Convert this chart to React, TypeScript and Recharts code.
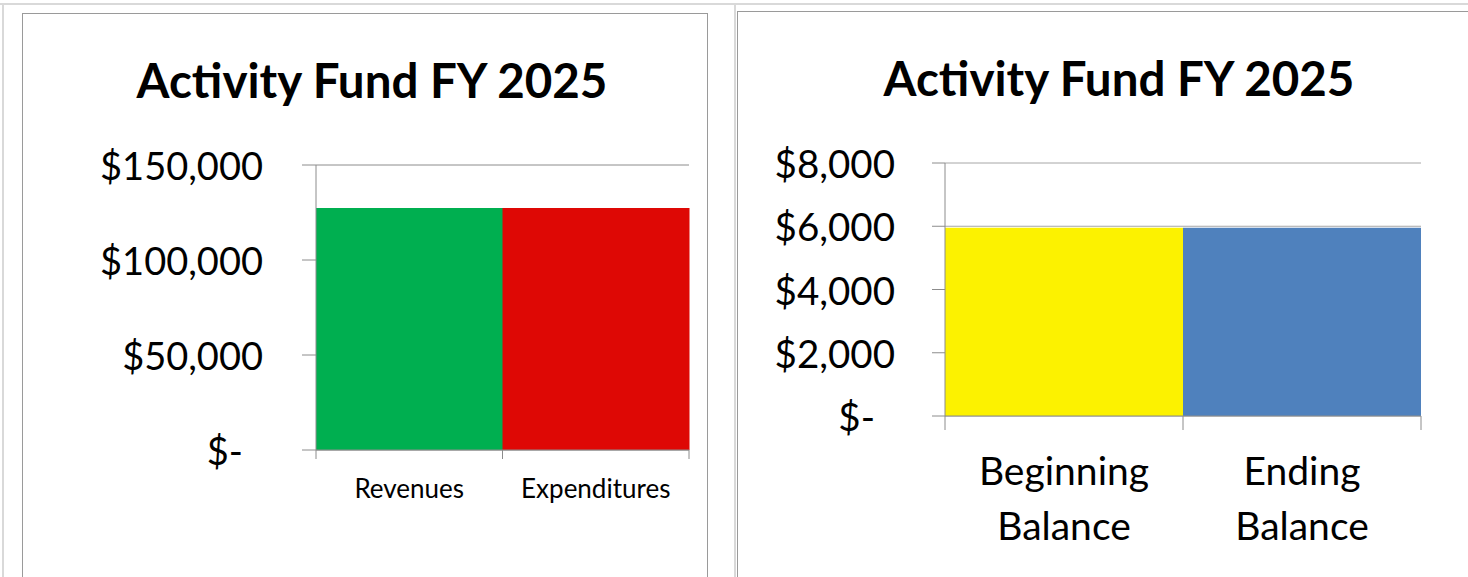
import React from "react";
import { BarChart, Bar, XAxis, YAxis, CartesianGrid, Cell } from "recharts";

const leftCategories = ["Revenues", "Expenditures"];
const leftValues = [127400, 127400];
const leftColors = ["#00AF50", "#DE0805"];
const leftTicks = [0, 50000, 100000, 150000];

const rightCategories = ["Beginning Balance", "Ending Balance"];
const rightValues = [5950, 5950];
const rightColors = ["#FCF200", "#4F81BD"];
const rightTicks = [0, 2000, 4000, 6000, 8000];

const chartTitle = "Activity Fund FY 2025";

const FONT = "Lato, 'Open Sans', sans-serif";
const AXIS_GRAY = "#8c8c8c";

const leftData = leftCategories.map((name, i) => ({ name, value: leftValues[i] }));
const rightData = rightCategories.map((name, i) => ({ name, value: rightValues[i] }));

function formatMoney(v: number): string {
  return v === 0 ? "$-" : "$" + v.toLocaleString("en-US");
}

function MoneyTick(props: any) {
  const { x, y, payload, fontSize, zeroShift } = props;
  const v = payload.value;
  return (
    <text
      x={v === 0 ? x - zeroShift : x}
      y={y}
      textAnchor="end"
      dominantBaseline="central"
      fontSize={fontSize}
      fontFamily={FONT}
      fill="#000"
    >
      {formatMoney(v)}
    </text>
  );
}

// category label in the middle, tick marks on the category edges (Excel style)
function EdgeTick(props: any) {
  const { x, y, payload, index, count, bandHalf, fontSize, lineGap, firstLine, tickLen } = props;
  const half = payload.offset || bandHalf;
  const lines = props.wrap ? String(payload.value).split(" ") : [String(payload.value)];
  return (
    <g>
      <line x1={x - half} x2={x - half} y1={y} y2={y + tickLen} stroke={AXIS_GRAY} />
      {index === count - 1 && (
        <line x1={x + half} x2={x + half} y1={y} y2={y + tickLen} stroke={AXIS_GRAY} />
      )}
      <text textAnchor="middle" fontSize={fontSize} fontFamily={FONT} fill="#000">
        {lines.map((l, i) => (
          <tspan key={i} x={x} y={y + firstLine + i * lineGap}>
            {l}
          </tspan>
        ))}
      </text>
    </g>
  );
}

const titleStyle: React.CSSProperties = {
  position: "absolute",
  fontFamily: FONT,
  fontWeight: 700,
  fontSize: 47.5,
  lineHeight: "normal",
  color: "#000",
  textAlign: "center",
  whiteSpace: "nowrap",
};

export default function App() {
  return (
    <div
      style={{
        position: "absolute",
        left: 0,
        top: 0,
        width: 1468,
        height: 577,
        overflow: "hidden",
        background: "#fff",
      }}
    >
      {/* sheet frame lines */}
      <div style={{ position: "absolute", left: 0, top: 3, width: 1468, height: 2, background: "#d9d9d9" }} />
      <div style={{ position: "absolute", left: 2, top: 3, width: 2, height: 580, background: "#d9d9d9" }} />
      <div style={{ position: "absolute", left: 734, top: 3, width: 2, height: 580, background: "#d9d9d9" }} />

      {/* left panel */}
      <div
        style={{
          position: "absolute",
          left: 22,
          top: 13,
          width: 686,
          height: 600,
          border: "1px solid #9a9a9a",
          boxSizing: "border-box",
          background: "#fff",
        }}
      >
        <div style={{ ...titleStyle, left: 6, width: 686, top: 37 }}>{chartTitle}</div>
        <div style={{ position: "absolute", left: -1, top: -1 }}>
          <BarChart
            width={686}
            height={564}
            data={leftData}
            barCategoryGap={0}
            margin={{ top: 152, right: 19, left: 0, bottom: 67 }}
          >
            <CartesianGrid vertical={false} stroke={AXIS_GRAY} />
            <XAxis
              dataKey="name"
              height={60}
              axisLine={{ stroke: AXIS_GRAY }}
              tickLine={false}
              tickSize={0}
              tickMargin={0}
              interval={0}
              tick={
                <EdgeTick
                  count={leftCategories.length}
                  bandHalf={93}
                  fontSize={26}
                  lineGap={30}
                  firstLine={48}
                  tickLen={9}
                />
              }
            />
            <YAxis
              width={294}
              domain={[0, 150000]}
              ticks={leftTicks}
              axisLine={{ stroke: AXIS_GRAY }}
              tickLine={{ stroke: AXIS_GRAY }}
              tickSize={14}
              tickMargin={39}
              tick={<MoneyTick fontSize={38} zeroShift={20} />}
            />
            <Bar dataKey="value" isAnimationActive={false}>
              {leftData.map((d, i) => (
                <Cell key={d.name} fill={leftColors[i]} />
              ))}
            </Bar>
          </BarChart>
        </div>
      </div>

      {/* right panel */}
      <div
        style={{
          position: "absolute",
          left: 737,
          top: 11,
          width: 740,
          height: 600,
          border: "1px solid #9a9a9a",
          boxSizing: "border-box",
          background: "#fff",
        }}
      >
        <div style={{ ...titleStyle, left: 0, width: 762, top: 37 }}>{chartTitle}</div>
        <div style={{ position: "absolute", left: -1, top: -1 }}>
          <BarChart
            width={731}
            height={566}
            data={rightData}
            barCategoryGap={0}
            margin={{ top: 152, right: 47, left: 0, bottom: 61 }}
          >
            <CartesianGrid vertical={false} stroke="#a6a6a6" />
            <XAxis
              dataKey="name"
              height={100}
              axisLine={{ stroke: AXIS_GRAY }}
              tickLine={false}
              tickSize={0}
              tickMargin={0}
              interval={0}
              tick={
                <EdgeTick
                  wrap
                  count={rightCategories.length}
                  bandHalf={119}
                  fontSize={39}
                  lineGap={55}
                  firstLine={69}
                  tickLen={14}
                />
              }
            />
            <YAxis
              width={208}
              domain={[0, 8000]}
              ticks={rightTicks}
              axisLine={{ stroke: AXIS_GRAY }}
              tickLine={{ stroke: AXIS_GRAY }}
              tickSize={13}
              tickMargin={37}
              tick={<MoneyTick fontSize={38.5} zeroShift={20} />}
            />
            <Bar dataKey="value" isAnimationActive={false}>
              {rightData.map((d, i) => (
                <Cell key={d.name} fill={rightColors[i]} />
              ))}
            </Bar>
          </BarChart>
        </div>
      </div>
    </div>
  );
}
